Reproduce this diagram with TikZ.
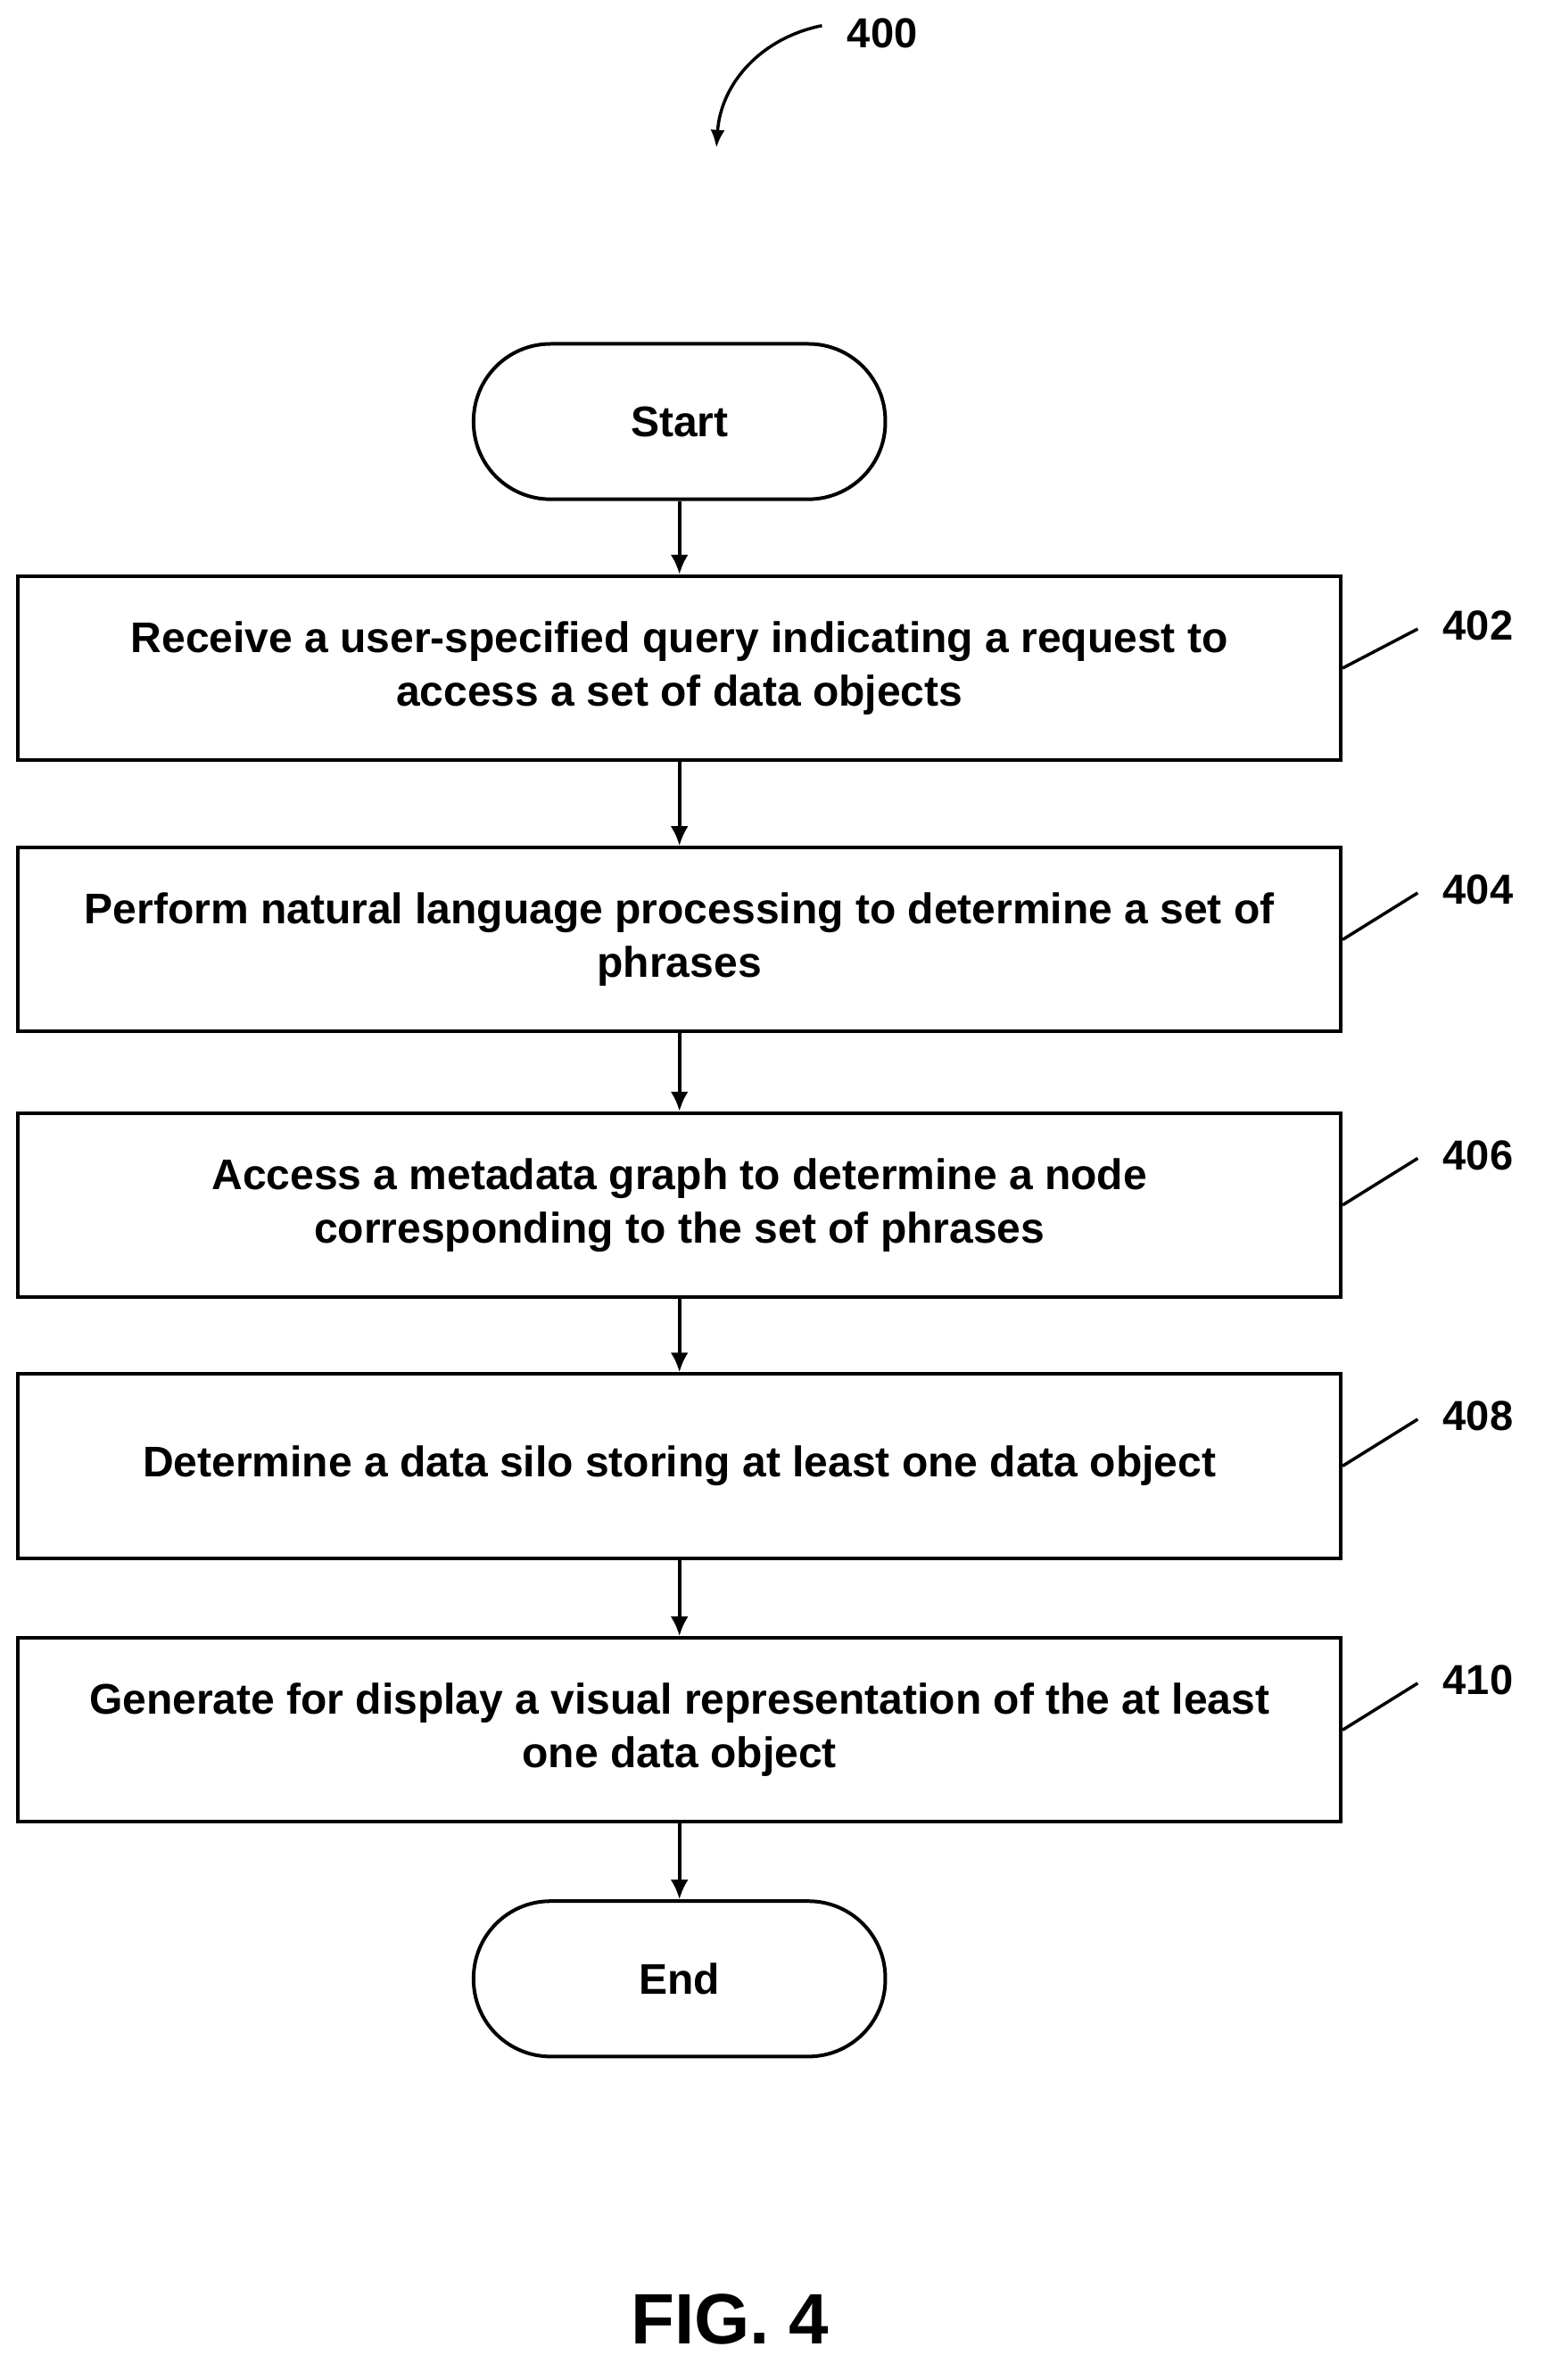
\documentclass[tikz,border=0pt]{standalone}
\usepackage{fontspec}
\setmainfont{Liberation Sans}
\usetikzlibrary{arrows.meta}
\begin{document}
\begin{tikzpicture}[x=1.6904pt,y=-1.6904pt,
  box/.style={draw,line width=4pt,minimum width=877*1.6904pt,minimum height=122*1.6904pt,align=center,font=\bfseries\fontsize{48}{60}\selectfont},
  term/.style={draw,line width=4pt,rounded corners=51*1.6904pt,minimum width=273*1.6904pt,minimum height=103*1.6904pt,font=\bfseries\fontsize{48}{60}\selectfont},
  arr/.style={line width=4pt,-{Latex[length=22pt,width=20pt]}},
  lead/.style={line width=3.5pt},
  lab/.style={font=\bfseries\fontsize{47}{50}\selectfont}]
\useasboundingbox (0,0) rectangle (1024,1578);
\node[term] (start) at (450.5,279.5) {Start};
\node[box] (b1) at (450.5,443) {Receive a user-specified query indicating a request to\\access a set of data objects};
\node[box] (b2) at (450.5,623) {Perform natural language processing to determine a set of\\phrases};
\node[box] (b3) at (450.5,799) {Access a metadata graph to determine a node\\corresponding to the set of phrases};
\node[box] (b4) at (450.5,972) {Determine a data silo storing at least one data object};
\node[box] (b5) at (450.5,1147) {Generate for display a visual representation of the at least\\one data object};
\node[term] (end) at (450.5,1312) {End};
\draw[arr] (start) -- (b1);
\draw[arr] (b1) -- (b2);
\draw[arr] (b2) -- (b3);
\draw[arr] (b3) -- (b4);
\draw[arr] (b4) -- (b5);
\draw[arr] (b5) -- (end);
\foreach \n/\t/\y in {b1/402/415,b2/404/590,b3/406/766,b4/408/939,b5/410/1114}{
  \node[lab] (l\t) at (980,\y) {\t};
  \coordinate (c\t) at (940,\y+2);
  \draw[lead] (\n.east) -- (c\t);
}
\node[lab] (l400) at (585,22) {400};
\coordinate (a400) at (545,17);
\coordinate (t400) at (475,98);
\draw[line width=3.5pt,-{Latex[length=20pt,width=16pt]}] (a400) .. controls (505,25) and (478,55) .. (t400);
\node[font=\bfseries\fontsize{80}{90}\selectfont] (fig) at (484,1538) {FIG. 4};
\end{tikzpicture}
\end{document}
